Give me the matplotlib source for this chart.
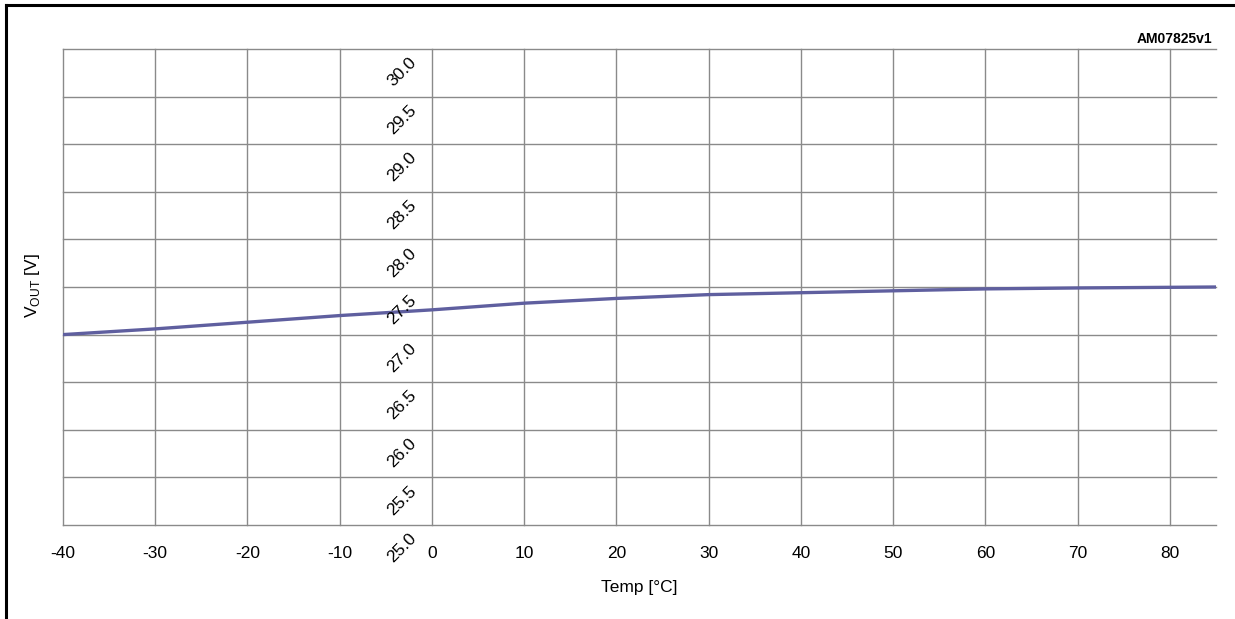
import numpy as np
import matplotlib.pyplot as plt
from matplotlib.lines import Line2D

plt.rcParams['font.family'] = ['Liberation Sans', 'DejaVu Sans']
plt.rcParams['mathtext.fontset'] = 'custom'
plt.rcParams['mathtext.rm'] = 'Liberation Sans'
plt.rcParams['axes.unicode_minus'] = False

# --- data ---
temp = [-40, -30, -20, -10, 0, 10, 20, 30, 40, 50, 60, 70, 85]
vout = [27.00, 27.06, 27.13, 27.20, 27.26, 27.33, 27.38, 27.42, 27.44, 27.46, 27.48, 27.49, 27.50]

x_ticks = [-40, -30, -20, -10, 0, 10, 20, 30, 40, 50, 60, 70, 80]
y_ticks = [25.0, 25.5, 26.0, 26.5, 27.0, 27.5, 28.0, 28.5, 29.0, 29.5, 30.0]

fig = plt.figure(figsize=(12.35, 6.19), dpi=100)
ax = fig.add_axes([63/1235, 1 - 525/619, (1216 - 63)/1235, (525 - 49)/619])

ax.plot(temp, vout, color="#5f5f9f", linewidth=2.4, zorder=3)

ax.set_xlim(-40, 85)
ax.set_ylim(25, 30)
ax.set_xticks(x_ticks)
ax.set_yticks(y_ticks)
ax.set_yticklabels([])
ax.tick_params(axis="both", length=0)
ax.tick_params(axis="x", labelsize=12.5, pad=15)
ax.grid(True, color="#8a8a8a", linewidth=1.0)
for gl in ax.get_xgridlines() + ax.get_ygridlines():
    gl.set_clip_on(False)
for s in ax.spines.values():
    s.set_visible(False)

# y tick labels sit rotated near x = 0
for v in y_ticks:
    ax.annotate(f"{v:.1f}", xy=(0, v), xytext=(-30, -23), textcoords="offset pixels",
                rotation=45, ha="center", va="center", fontsize=12.5)

ax.set_xlabel("Temp [°C]", fontsize=12.5, labelpad=14)
fig.text(33/1235, 1 - 286/619, r"V$_{\mathrm{OUT}}$ [V]", rotation=90,
         ha="center", va="center", fontsize=12.5)
fig.text(1212/1235, 1 - 39/619, "AM07825v1", ha="right", va="center",
         fontsize=10, fontweight="bold")

# frame lines top and left
fig.add_artist(Line2D([6/1235, 1], [1 - 5/619, 1 - 5/619], color="black", linewidth=2.2))
fig.add_artist(Line2D([6/1235, 6/1235], [0, 1 - 5/619], color="black", linewidth=2.2))

plt.savefig("out.png", dpi=100)
